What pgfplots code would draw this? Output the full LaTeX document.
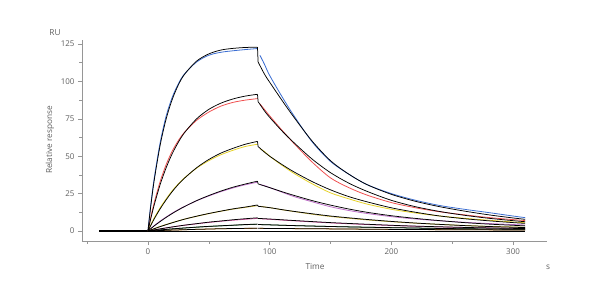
\documentclass[border=0pt]{standalone}
\usepackage{pgfplots}
\pgfplotsset{compat=1.18}
\usepackage{fontspec}
\setmainfont{Open Sans}
\definecolor{cblue}{RGB}{60,110,210}
\definecolor{cred}{RGB}{240,80,80}
\definecolor{cyel}{RGB}{230,210,40}
\definecolor{cvio}{RGB}{190,110,200}
\definecolor{coli}{RGB}{205,185,60}
\definecolor{cpink}{RGB}{220,90,170}
\definecolor{cgreen}{RGB}{50,110,60}
\definecolor{corange}{RGB}{220,140,40}
\definecolor{axgray}{RGB}{150,150,150}
\definecolor{txtgray}{RGB}{95,95,95}
\begin{document}
\begin{tikzpicture}
\useasboundingbox (-82bp,-59bp) rectangle (518bp,241bp);
\begin{axis}[at={(0,0)}, anchor=south west, scale only axis,
  width=465bp, height=201bp,
  xmin=-54.2, xmax=327.9, ymin=-6.7, ymax=127.7,
  axis x line=bottom, axis y line=left,
  axis line style={axgray, -, line width=0.6pt},
  xtick={0,100,200,300}, minor xtick={-50,50,150,250},
  ytick={0,25,50,75,100,125}, minor ytick={12.5,37.5,62.5,87.5,112.5},
  tick align=outside, major tick length=4bp, minor tick length=2.5bp,
  every tick/.style={axgray, line width=0.6pt},
  tick label style={font=\fontsize{8}{9.5}\selectfont, text=txtgray},
  /pgf/number format/assume math mode=true,
  clip=false]
% baseline
\addplot[black, line width=1.6pt] coordinates {(-40,0)(0,0)};
% ---- data series ----
\addplot[cblue, line width=0.8pt, smooth] coordinates {(0,0)(2,15.5)(5,34.5)(10,59)(15,77)(20,89.5)(25,98.5)(30,105)(40,113)(50,117.5)(60,119.5)(70,120.5)(80,121.3)(90,122)};
\addplot[cblue, line width=0.8pt, smooth] coordinates {(92,117.5)(96,111)(100,104)(110,90)(120,77)(135,59.5)(150,46.5)(165,38)(180,31)(200,25)(220,20.5)(240,17)(260,14.5)(280,12.3)(300,10)(310,8.9)};
\addplot[cred, line width=0.8pt, smooth] coordinates {(0,0)(2,8)(5,18.5)(10,33)(15,44.5)(20,53.5)(25,60.5)(30,66)(40,74)(50,79.5)(60,83.5)(70,86)(80,87.5)(90,88.5)};
\addplot[cred, line width=0.8pt, smooth] coordinates {(92,85)(96,81)(100,77)(110,67.5)(120,58.5)(135,46)(150,35.5)(165,29)(180,24)(200,19)(220,15.5)(240,12.8)(260,10.8)(280,9)(300,7.6)(310,7)};
\addplot[cyel, line width=0.8pt, smooth] coordinates {(0,0)(2,3.5)(5,8.5)(10,15.5)(15,21.5)(20,27)(25,31.5)(30,35.5)(40,42)(50,47)(60,51)(70,54)(80,56.5)(90,58)};
\addplot[cyel, line width=0.8pt, smooth] coordinates {(92,55)(96,53)(100,50)(110,44)(120,38.5)(135,31.5)(150,25.5)(165,21.5)(180,18)(200,14.5)(220,12)(240,10)(260,8.5)(280,7.2)(300,6)(310,5.5)};
\addplot[cvio, line width=0.8pt, smooth] coordinates {(0,0)(2,1.4)(5,3.5)(10,6.6)(15,9.4)(20,12)(25,14.3)(30,16.4)(40,20.2)(50,23.4)(60,26.3)(70,28.8)(80,30.9)(90,32.6)};
\addplot[cvio, line width=0.8pt, smooth] coordinates {(92,31)(96,30.3)(100,29)(110,26)(120,23)(135,19.5)(150,16.2)(165,13.7)(180,11.7)(200,9.6)(220,8)(240,6.8)(260,5.8)(280,5)(300,4.3)(310,4)};
\addplot[coli, line width=0.8pt, smooth] coordinates {(0,0)(10,3)(20,5.6)(30,7.9)(40,9.8)(50,11.6)(60,13.2)(70,14.6)(80,15.8)(90,16.9)};
\addplot[coli, line width=0.8pt, smooth] coordinates {(92,16.5)(100,15.6)(110,14.2)(120,13)(135,11.2)(150,9.7)(165,8.5)(180,7.4)(200,6.2)(220,5.2)(240,4.4)(260,3.7)(280,3.1)(300,2.7)(310,2.5)};
\addplot[cpink, line width=0.8pt, smooth] coordinates {(0,0)(10,1.4)(20,2.7)(30,3.8)(40,4.8)(50,5.7)(60,6.5)(70,7.2)(80,7.8)(90,8.4)};
\addplot[cpink, line width=0.8pt, smooth] coordinates {(92,8.2)(100,7.8)(120,6.8)(150,5.4)(180,4.3)(210,3.4)(240,2.7)(270,2.2)(310,1.7)};
\addplot[cgreen, line width=0.8pt, smooth] coordinates {(0,0)(10,0.7)(20,1.4)(30,2)(40,2.5)(50,3)(60,3.4)(70,3.8)(80,4.2)(90,4.5)};
\addplot[cgreen, line width=0.8pt, smooth] coordinates {(92,4.3)(100,4.1)(120,3.6)(150,3)(180,2.5)(210,2.1)(240,1.7)(270,1.4)(310,1.1)};
\addplot[corange, line width=0.8pt, smooth] coordinates {(0,0)(10,0.3)(20,0.6)(30,0.8)(40,1.1)(50,1.3)(60,1.5)(70,1.6)(80,1.7)(90,1.8)};
\addplot[corange, line width=0.8pt, smooth] coordinates {(92,1.75)(100,1.7)(150,1.4)(210,1)(270,0.8)(310,0.6)};
% ---- fitted curves ----
\addplot[black, line width=0.75pt, smooth] coordinates {(0,0)(2,14.5)(5,33.1)(10,57.3)(15,75.1)(20,88.1)(25,97.7)(30,104.7)(40,113.6)(50,118.4)(60,121)(70,122.1)(80,122.7)(90,122.9)};
\addplot[black, line width=0.75pt] coordinates {(90,122.9)(90.5,113)};
\addplot[black, line width=0.75pt, smooth] coordinates {(90.5,113)(96,104.5)(100,99.5)(110,87.5)(120,76)(135,60)(150,47)(165,38)(180,31)(200,24.5)(220,19.8)(240,16.2)(260,13.3)(280,10.8)(300,8.7)(310,7.8)};
\addplot[black, line width=0.75pt, smooth] coordinates {(0,0)(2,7.2)(5,17)(10,31)(15,42.4)(20,51.8)(25,59.4)(30,65.7)(40,75)(50,81.3)(60,85.5)(70,88.3)(80,90.2)(90,91.4)};
\addplot[black, line width=0.75pt] coordinates {(90,91.4)(90.5,86.5)};
\addplot[black, line width=0.75pt, smooth] coordinates {(90.5,86.5)(96,80)(100,76)(110,67)(120,59)(135,48)(150,39)(165,32)(180,26.5)(200,20.5)(220,16.2)(240,13)(260,10.5)(280,8.5)(300,6.9)(310,6.2)};
\addplot[black, line width=0.75pt, smooth] coordinates {(0,0)(2,3.2)(5,7.9)(10,14.8)(15,20.9)(20,26.4)(25,31.2)(30,35.3)(40,42.3)(50,47.8)(60,52.1)(70,55.3)(80,58)(90,59.9)};
\addplot[black, line width=0.75pt] coordinates {(90,59.9)(90.5,56.5)};
\addplot[black, line width=0.75pt, smooth] coordinates {(90.5,56.5)(96,52.5)(100,50)(110,44.5)(120,39.5)(135,33)(150,27.5)(165,23)(180,19.5)(200,15.5)(220,12.5)(240,10)(260,8.2)(280,6.8)(300,5.6)(310,5.1)};
\addplot[black, line width=0.75pt, smooth] coordinates {(0,0)(2,1.3)(5,3.3)(10,6.3)(15,9.1)(20,11.7)(25,14.1)(30,16.3)(40,20.3)(50,23.7)(60,26.7)(70,29.3)(80,31.4)(90,33.3)};
\addplot[black, line width=0.75pt] coordinates {(90,33.3)(90.5,31.5)};
\addplot[black, line width=0.75pt, smooth] coordinates {(90.5,31.5)(96,30)(100,29)(110,26.3)(120,23.8)(135,20.3)(150,17.3)(165,14.7)(180,12.5)(200,10.2)(220,8.4)(240,6.9)(260,5.6)(280,4.6)(300,3.8)(310,3.4)};
\addplot[black, line width=0.75pt, smooth] coordinates {(0,0)(10,2.9)(20,5.5)(30,7.9)(40,9.9)(50,11.7)(60,13.3)(70,14.8)(80,16)(90,17.4)};
\addplot[black, line width=0.75pt] coordinates {(90,17.4)(90.5,16.5)};
\addplot[black, line width=0.75pt, smooth] coordinates {(90.5,16.5)(100,15.6)(110,14.3)(120,13.1)(135,11.5)(150,10)(165,8.8)(180,7.7)(200,6.4)(220,5.3)(240,4.4)(260,3.6)(280,3)(300,2.5)(310,2.3)};
\addplot[black, line width=0.75pt, smooth] coordinates {(0,0)(10,1.4)(20,2.7)(30,3.9)(40,4.9)(50,5.9)(60,6.7)(70,7.5)(80,8.2)(90,8.8)};
\addplot[black, line width=0.75pt] coordinates {(90,8.8)(90.5,8.4)};
\addplot[black, line width=0.75pt, smooth] coordinates {(90.5,8.4)(100,8)(120,7)(150,5.6)(180,4.5)(210,3.5)(240,2.8)(270,2.2)(310,1.6)};
\addplot[black, line width=0.75pt, smooth] coordinates {(0,0)(10,0.7)(20,1.4)(30,2)(40,2.6)(50,3.1)(60,3.5)(70,3.9)(80,4.3)(90,4.6)};
\addplot[black, line width=0.75pt, smooth] coordinates {(90.5,4.3)(100,4.1)(120,3.6)(150,3)(180,2.5)(210,2.1)(240,1.7)(270,1.4)(310,1.1)};
\addplot[black, line width=0.75pt, smooth] coordinates {(0,0)(10,0.3)(20,0.6)(30,0.85)(40,1.1)(50,1.3)(60,1.5)(70,1.65)(80,1.75)(90,1.85)};
\addplot[black, line width=0.75pt, smooth] coordinates {(90.5,1.8)(100,1.7)(150,1.4)(210,1)(270,0.8)(310,0.6)};
\addplot[black, line width=0.9pt] coordinates {(0,0)(310,0)};
\end{axis}
\node[font=\fontsize{8.3}{10}\selectfont, text=txtgray] at (-27bp,208bp) {RU};
\node[font=\fontsize{8.3}{10}\selectfont, text=txtgray, rotate=90] at (-32bp,101bp) {Relative response};
\node[font=\fontsize{8.3}{10}\selectfont, text=txtgray] at (233bp,-26bp) {Time};
\node[font=\fontsize{8.3}{10}\selectfont, text=txtgray] at (466bp,-26bp) {s};
\end{tikzpicture}
\end{document}
